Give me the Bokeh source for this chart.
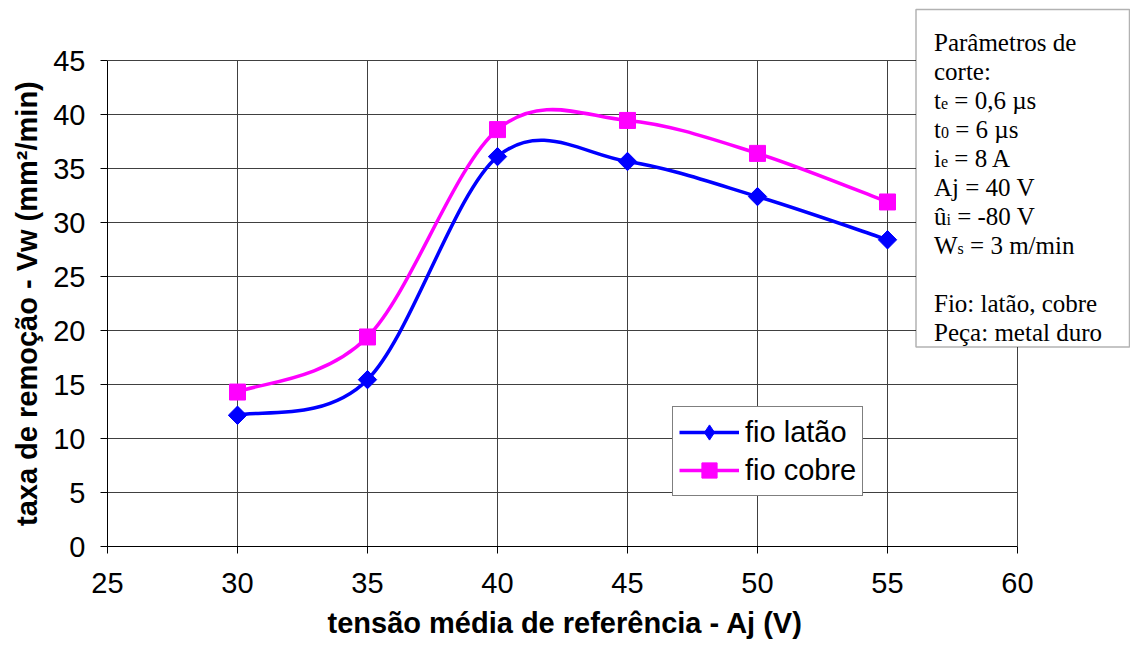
import numpy as np
from bokeh.plotting import figure
from bokeh.models import Range1d, Label, BoxAnnotation, Legend, LegendItem, FixedTicker, Title
from bokeh.embed import file_html
from bokeh.resources import INLINE

# ---------------- data ----------------
aj_volts = [30, 35, 40, 45, 50, 55]
vw_latao = [12.15, 15.45, 36.1, 35.65, 32.4, 28.4]
vw_cobre = [14.3, 19.4, 38.6, 39.45, 36.4, 31.9]
series_names = ["fio latão", "fio cobre"]
series_colors = ["#0000FF", "#FF00FF"]
x_ticks = [25, 30, 35, 40, 45, 50, 55, 60]
y_ticks = [0, 5, 10, 15, 20, 25, 30, 35, 40, 45]
x_title = "tensão média de referência - Aj (V)"
y_title = "taxa de remoção - Vw (mm²/min)"
# parameter box lines: (main, subscript, rest)
param_lines = [
    ("Parâmetros  de", "", ""),
    ("corte:", "", ""),
    ("t", "e", "= 0,6 µs"),
    ("t", "0", "= 6 µs"),
    ("i", "e", "= 8 A"),
    ("Aj = 40 V", "", ""),
    ("û", "i", "= -80 V"),
    ("W", "s", "= 3 m/min"),
    ("", "", ""),
    ("Fio: latão, cobre", "", ""),
    ("Peça: metal duro", "", ""),
]

# ---------------- layout ----------------
W, H = 1130, 652
AX_X0, AX_X1, AX_Y0, AX_Y1 = 25, 60, 0, 45          # axis extents
PLOT_L, PLOT_T, PLOT_R, PLOT_B = 107, 60, 1017, 546  # axis area in pixels
PX_X = (PLOT_R - PLOT_L) / (AX_X1 - AX_X0)
PX_Y = (PLOT_B - PLOT_T) / (AX_Y1 - AX_Y0)
FRAME_L, FRAME_T, FRAME_R, FRAME_B = PLOT_L, 0, W, PLOT_B
x_rng = Range1d(AX_X0, AX_X0 + (FRAME_R - PLOT_L) / PX_X)
y_rng = Range1d(AX_Y0, AX_Y1 + (PLOT_T - FRAME_T) / PX_Y)

p = figure(width=W, height=H, output_backend="svg", toolbar_location=None,
           x_range=x_rng, y_range=y_rng,
           frame_width=FRAME_R - FRAME_L, frame_height=FRAME_B - FRAME_T,
           min_border_left=FRAME_L, min_border_top=FRAME_T,
           min_border_right=W - FRAME_R, min_border_bottom=H - FRAME_B)
p.background_fill_color = "white"
p.border_fill_color = "white"
p.outline_line_color = None
p.xgrid.visible = False
p.ygrid.visible = False

AX_FONT = "Liberation Sans"
for ax in (p.xaxis[0], p.yaxis[0]):
    ax.major_label_text_font = AX_FONT
    ax.major_label_text_font_size = "29px"
    ax.major_label_text_color = "black"
    ax.axis_line_color = "black"
    ax.major_tick_line_color = "black"
    ax.major_tick_out = 7
    ax.major_tick_in = 0
    ax.minor_tick_line_color = None
p.xaxis[0].ticker = FixedTicker(ticks=x_ticks)
p.yaxis[0].ticker = FixedTicker(ticks=y_ticks)
p.xaxis[0].bounds = (AX_X0, AX_X1)
p.yaxis[0].bounds = (AX_Y0, AX_Y1)
p.xaxis[0].major_label_standoff = 19
p.yaxis[0].major_label_standoff = 15

# axis titles, centred on the axis area (not on the whole frame)
x_title_w, y_title_w = 470, 445
p.add_layout(Title(text=x_title, align="left",
                   offset=(PLOT_L + PLOT_R) / 2 - x_title_w / 2 - FRAME_L,
                   text_font=AX_FONT, text_font_size="29px", text_font_style="bold",
                   text_color="black", standoff=19), "below")
p.add_layout(Title(text=y_title, align="left",
                   offset=FRAME_B - ((PLOT_T + PLOT_B) / 2 + y_title_w / 2),
                   text_font=AX_FONT, text_font_size="29px", text_font_style="bold",
                   text_color="black", standoff=15), "left")

# grid lines limited to the axis area
GRID = "#404040"
p.segment(x0=x_ticks[1:], y0=[AX_Y0] * (len(x_ticks) - 1),
          x1=x_ticks[1:], y1=[AX_Y1] * (len(x_ticks) - 1),
          line_color=GRID, line_width=1, level="underlay")
p.segment(x0=[AX_X0] * (len(y_ticks) - 1), y0=y_ticks[1:],
          x1=[AX_X1] * (len(y_ticks) - 1), y1=y_ticks[1:],
          line_color=GRID, line_width=1, level="underlay")


def smooth_segments(xs, ys):
    x = np.asarray(xs, float)
    y = np.asarray(ys, float)
    n = len(x)
    xp = np.concatenate([[x[0]], x, [x[-1]]])
    yp = np.concatenate([[y[0]], y, [y[-1]]])
    cx0 = x[:-1] + (xp[2:n + 1] - xp[0:n - 1]) / 6
    cy0 = y[:-1] + (yp[2:n + 1] - yp[0:n - 1]) / 6
    cx1 = x[1:] - (xp[3:n + 2] - xp[1:n]) / 6
    cy1 = y[1:] - (yp[3:n + 2] - yp[1:n]) / 6
    return dict(x0=x[:-1], y0=y[:-1], x1=x[1:], y1=y[1:],
                cx0=cx0, cy0=cy0, cx1=cx1, cy1=cy1)


items = []
# latão
seg = smooth_segments(aj_volts, vw_latao)
br = p.bezier(line_color=series_colors[0], line_width=3.5, **seg)
dr = p.scatter(aj_volts, vw_latao, marker="diamond", size=18,
               fill_color=series_colors[0], line_color=series_colors[0])
p.scatter(aj_volts, vw_latao, marker="square", size=13, angle=np.pi / 4,
          fill_color=series_colors[0], line_color=series_colors[0])
items.append(LegendItem(label=series_names[0], renderers=[br, dr]))
# cobre
seg = smooth_segments(aj_volts, vw_cobre)
br = p.bezier(line_color=series_colors[1], line_width=3.5, **seg)
sr = p.scatter(aj_volts, vw_cobre, marker="square", size=16,
               fill_color=series_colors[1], line_color=series_colors[1])
items.append(LegendItem(label=series_names[1], renderers=[br, sr]))

legend = Legend(items=items, location=(672 - PLOT_L, PLOT_B - 496), margin=0,
                padding=6, spacing=-4,
                glyph_width=60, glyph_height=38, label_standoff=6,
                label_text_font=AX_FONT, label_text_font_size="29px",
                label_text_color="black", label_height=38,
                border_line_color="black", border_line_width=1,
                background_fill_color="white", background_fill_alpha=1.0)
p.add_layout(legend)


# ---------------- parameter box (pixel positions -> data) ----------------
def dx(px):
    return AX_X0 + (px - PLOT_L) / PX_X


def dy(py):
    return AX_Y1 - (py - PLOT_T) / PX_Y


box = BoxAnnotation(left=dx(915.5), right=dx(1129), top=dy(9), bottom=dy(346.5),
                    fill_color="white", fill_alpha=1.0,
                    line_color="black", line_width=1.5, level="annotation")
p.add_layout(box)

SERIF = "Liberation Serif"
MAIN_PX, SUB_PX = 25, 16
adv = {"t": 0.278, "i": 0.278, "û": 0.5, "W": 0.944, "e": 0.444, "0": 0.5, "s": 0.389}
SPACE = 0.25
x0 = 933.5
for k, (main, sub, rest) in enumerate(param_lines):
    base = 41.7 + k * 29.0
    if main:
        p.add_layout(Label(x=dx(x0), y=dy(base), text=main, text_font=SERIF,
                           text_font_size=f"{MAIN_PX}px", text_color="black",
                           text_baseline="alphabetic", text_align="left",
                           level="overlay"))
    if sub:
        sx = x0 + adv[main] * MAIN_PX
        p.add_layout(Label(x=dx(sx), y=dy(base + 3.5), text=sub, text_font=SERIF,
                           text_font_size=f"{SUB_PX}px", text_color="black",
                           text_baseline="alphabetic", text_align="left",
                           level="overlay"))
        rx = sx + adv[sub] * SUB_PX + SPACE * MAIN_PX
        p.add_layout(Label(x=dx(rx), y=dy(base), text=rest, text_font=SERIF,
                           text_font_size=f"{MAIN_PX}px", text_color="black",
                           text_baseline="alphabetic", text_align="left",
                           level="overlay"))

open("out.html", "w").write(file_html(p, INLINE))
